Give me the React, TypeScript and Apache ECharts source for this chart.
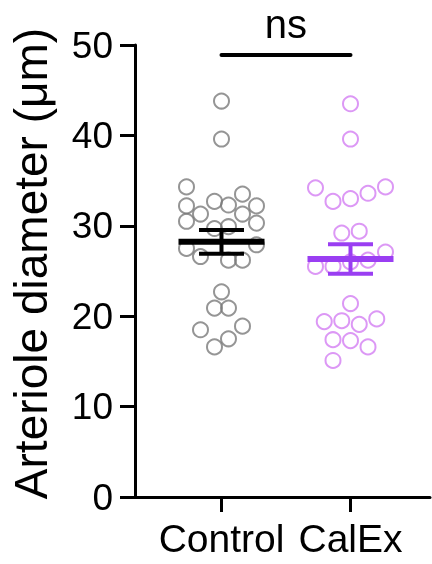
import React, { useEffect, useRef } from "react";
import * as echarts from "echarts";

const groups = ["Control", "CalEx"];
const controlValues = [43.8, 39.6, 34.3, 33.5, 32.7, 32.3, 32.2, 32.2, 31.3, 31.3, 30.5, 30.3, 29.7, 29.9, 27.5, 26.6, 26.2, 26.2, 27.9, 22.7, 20.9, 20.9, 18.9, 18.5, 17.5, 16.6];
// horizontal swarm slot of each point
const controlSlots = [0, 0, -5, 3, -1, 1, -5, 5, -3, 3, -5, 5, -1, 1, -5, -3, 1, 3, 5, 0, -1, 1, 3, -3, 1, -1];
const calexValues = [43.5, 39.6, 34.2, 34.3, 32.7, 33.0, 33.6, 29.2, 29.4, 27.1, 25.5, 25.5, 26.0, 26.2, 21.4, 19.4, 19.5, 19.1, 19.7, 17.4, 17.3, 16.6, 15.1];
const calexSlots = [0, 0, -4, 4, -2, 0, 2, -1, 1, 4, -4, -2, 0, 2, 0, -3, -1, 1, 3, -2, 0, 2, -2];
const yTicks = [0, 10, 20, 30, 40, 50];
const sigLabel = "ns";
const sigLevel = 48.9;

const FONT = "'Liberation Sans', Arial, Helvetica, sans-serif";

function stats(v: number[]) {
  const n = v.length;
  const mean = v.reduce((a, b) => a + b, 0) / n;
  const sd = Math.sqrt(v.reduce((a, b) => a + (b - mean) * (b - mean), 0) / (n - 1));
  return { mean, sem: sd / Math.sqrt(n) };
}

export default function App() {
  const ref = useRef<HTMLDivElement>(null);
  useEffect(() => {
    if (!ref.current) return;
    const chart = echarts.init(ref.current, undefined, { renderer: "svg" });
    const cs = stats(controlValues);
    const ks = stats(calexValues);
    const ctrlStep = 7 / 129;
    const calStep = 8.75 / 129;
    const ctrlData = controlValues.map((v, i) => [1 + controlSlots[i] * ctrlStep, v]);
    const calData = calexValues.map((v, i) => [2 + calexSlots[i] * calStep, v]);

    const meanRender = (color: string) => (params: any, api: any) => {
      const x = api.value(0);
      const c = api.coord([x, api.value(1)]);
      const lo = api.coord([x, api.value(2)]);
      const hi = api.coord([x, api.value(3)]);
      return {
        type: "group",
        children: [
          { type: "line", shape: { x1: c[0], y1: lo[1], x2: c[0], y2: hi[1] }, style: { stroke: color, lineWidth: 4 } },
          { type: "line", shape: { x1: c[0] - 22.5, y1: lo[1], x2: c[0] + 22.5, y2: lo[1] }, style: { stroke: color, lineWidth: 4 } },
          { type: "line", shape: { x1: c[0] - 22.5, y1: hi[1], x2: c[0] + 22.5, y2: hi[1] }, style: { stroke: color, lineWidth: 4 } },
          { type: "line", shape: { x1: c[0] - 43, y1: c[1], x2: c[0] + 43, y2: c[1] }, style: { stroke: color, lineWidth: 6 } },
        ],
      };
    };

    chart.setOption({
      animation: false,
      grid: { left: 135, top: 45, bottom: 67, width: 295 },
      xAxis: {
        type: "value",
        min: 0.3295,
        max: 2.6163,
        splitLine: { show: false },
        axisLine: { show: true, lineStyle: { color: "#000", width: 3 } },
        axisTick: { show: true, length: 15, lineStyle: { color: "#000", width: 3 }, customValues: [1, 2] },
        axisLabel: {
          show: true,
          customValues: [1, 2],
          formatter: (v: number) => groups[Math.round(v) - 1] ?? "",
          fontSize: 39,
          fontFamily: FONT,
          color: "#000",
          margin: 22,
        },
      },
      yAxis: {
        type: "value",
        min: 0,
        max: 50,
        interval: 10,
        splitLine: { show: false },
        axisLine: { show: true, lineStyle: { color: "#000", width: 3 } },
        axisTick: { show: true, length: 15, lineStyle: { color: "#000", width: 3 } },
        axisLabel: {
          fontSize: 37,
          fontFamily: FONT,
          color: "#000",
          margin: 22,
          formatter: (v: number) => (yTicks.includes(v) ? String(v) : ""),
        },
      },
      graphic: [
        {
          type: "text",
          x: 31,
          y: 263.5,
          rotation: Math.PI / 2,
          style: {
            text: "Arteriole diameter (μm)",
            fontSize: 46,
            fontFamily: FONT,
            fill: "#000",
            align: "center",
            verticalAlign: "middle",
          },
        },
      ],
      series: [
        {
          type: "scatter",
          data: ctrlData,
          symbol: "circle",
          symbolSize: 15,
          itemStyle: { color: "rgba(0,0,0,0)", borderColor: "#7a7a7a", borderWidth: 2 },
          z: 2,
        },
        {
          type: "scatter",
          data: calData,
          symbol: "circle",
          symbolSize: 15,
          itemStyle: { color: "rgba(0,0,0,0)", borderColor: "#d37ef3", borderWidth: 2 },
          z: 2,
        },
        {
          type: "custom",
          data: [[1, cs.mean, cs.mean - cs.sem, cs.mean + cs.sem]],
          renderItem: meanRender("#000"),
          z: 5,
        },
        {
          type: "custom",
          data: [[2, ks.mean, ks.mean - ks.sem, ks.mean + ks.sem]],
          renderItem: meanRender("#9a3ef2"),
          z: 5,
        },
        {
          type: "custom",
          data: [[1, 2, sigLevel]],
          clip: false,
          z: 6,
          renderItem: (params: any, api: any) => {
            const a = api.coord([api.value(0), api.value(2)]);
            const b = api.coord([api.value(1), api.value(2)]);
            return {
              type: "group",
              children: [
                { type: "line", shape: { x1: a[0], y1: a[1], x2: b[0], y2: b[1] }, style: { stroke: "#000", lineWidth: 4, lineCap: "round" } },
                {
                  type: "text",
                  x: (a[0] + b[0]) / 2,
                  y: a[1] - 31,
                  style: { text: sigLabel, fontSize: 40, fontFamily: FONT, fill: "#000", align: "center", verticalAlign: "middle" },
                },
              ],
            };
          },
        },
      ],
    });
    return () => chart.dispose();
  }, []);
  return <div ref={ref} style={{ position: "fixed", left: 0, top: 0, width: 432, height: 564 }} />;
}
